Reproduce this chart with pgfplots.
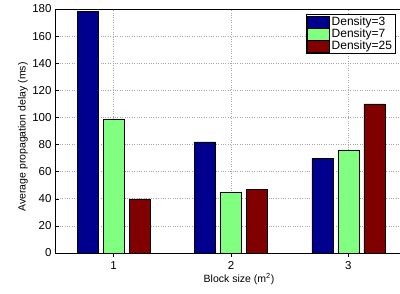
\documentclass[border=0pt]{standalone}
\usepackage{fontspec}
\setmainfont{Liberation Sans}
\usepackage{pgfplots}
\pgfplotsset{compat=1.18}
\definecolor{cblue}{RGB}{0,0,143}
\definecolor{cgreen}{RGB}{128,255,128}
\definecolor{cred}{RGB}{128,0,0}
\begin{document}
\begin{tikzpicture}[x=1pt,y=1pt]
\begin{axis}[
  at={(0pt,0pt)}, anchor=origin,
  scale only axis,
  width=352pt, height=244pt,
  xmin=0.5, xmax=3.5, ymin=0, ymax=180,
  xtick={1,2,3}, ytick={0,20,...,180},
  tick align=inside,
  tick style={black, line width=0.5pt},
  major tick length=4pt,
  axis line style={line width=0.8pt},
  axis x line*=bottom, axis y line*=left,
  grid=major,
  grid style={dotted, gray!70, line width=0.6pt},
  /pgf/number format/assume math mode=true,
  ticklabel style={font=\fontsize{11.5}{13}\selectfont},
  xticklabel style={yshift=-1pt},
  ylabel={Average propagation delay (ms)},
  xlabel={Block size (m\textsuperscript{2})},
  ylabel style={at={(axis description cs:0,0.5)}, anchor=center, yshift=32pt, xshift=-6pt, font=\fontsize{10.5}{12}\selectfont},
  xlabel style={at={(axis description cs:0.5,0)}, anchor=center, yshift=-26pt, xshift=8pt, font=\fontsize{10.5}{12}\selectfont},
  ybar, bar width=21pt,
  legend cell align=left,
  legend style={anchor=north west, at={(rel axis cs:0.7125,0.98)},
    draw=black, line width=0.8pt, font=\fontsize{12}{14}\selectfont,
    inner xsep=1pt, inner ysep=1pt, row sep=-1pt,
    nodes={inner ysep=1.5pt}},
  legend image code/.code={\draw[#1, line width=0.5pt] (0pt,-6pt) rectangle (22pt,6pt);},
]
\addplot[fill=cblue, draw=black, line width=0.5pt, bar shift=-26pt] coordinates {(1,178) (2,82) (3,70)};
\addplot[fill=cgreen, draw=black, line width=0.5pt, bar shift=0pt] coordinates {(1,99) (2,45) (3,76)};
\addplot[fill=cred, draw=black, line width=0.5pt, bar shift=26pt] coordinates {(1,40) (2,47) (3,110)};
\draw[line width=0.8pt] (rel axis cs:0,1) -- (rel axis cs:1,1);
\legend{Density=3, Density=7, Density=25}
\end{axis}
\pgfresetboundingbox
\useasboundingbox (-55pt,-40pt) rectangle (345pt,253pt);
\end{tikzpicture}
\end{document}
